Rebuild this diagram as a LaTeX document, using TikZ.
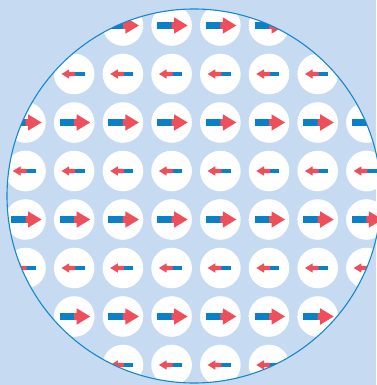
\documentclass[tikz,border=0pt]{standalone}
\usetikzlibrary{calc}
\definecolor{paleblue}{HTML}{C6DBF2}
\definecolor{spinblue}{HTML}{0A80C8}
\definecolor{spinred}{HTML}{EF4F5B}
\definecolor{rimblue}{HTML}{1488CE}
\begin{document}
\begin{tikzpicture}[
  x=1pt, y=-1pt,
  site/.style={fill=white},
  tail/.style={fill=spinblue},
  tip/.style={fill=spinred},
  spinright/.pic={
    \fill[tail] (-14.5,-3.4) rectangle (0.5,3.4);
    \fill[tip] (0,-3.4) -- (2.5,-3.4) -- (2.5,-8.2) -- (16,0) -- (2.5,8.2) -- (2.5,3.4) -- (0,3.4) -- cycle;
  },
  spinleft/.pic={
    \fill[tail] (0.5,-2.1) rectangle (10.3,2.1);
    \fill[tip] (1,-2.1) -- (-5,-2.1) -- (-5,-4.7) -- (-12.7,0) -- (-5,4.7) -- (-5,2.1) -- (1,2.1) -- cycle;
  }
]
\useasboundingbox (0,0) rectangle (376,385);
\fill[paleblue] (0,0) rectangle (376,385);
% lattice seen through the lens
\begin{scope}
  \clip (194,196) circle (187pt);
  \foreach \j in {0,...,7}
    \foreach \i in {0,...,7} {
      \pgfmathsetmacro{\px}{25.5+48.7*\i}
      \pgfmathsetmacro{\py}{25.5+48.5*\j}
      \fill[site] (\px,\py) circle (20.3pt);
      \ifodd\j
        \pic at (\px,\py) {spinleft};
      \else
        \pic at (\px,\py) {spinright};
      \fi
    }
\end{scope}
\draw[rimblue, line width=1.1pt] (194,196) circle (187pt);
\end{tikzpicture}
\end{document}
